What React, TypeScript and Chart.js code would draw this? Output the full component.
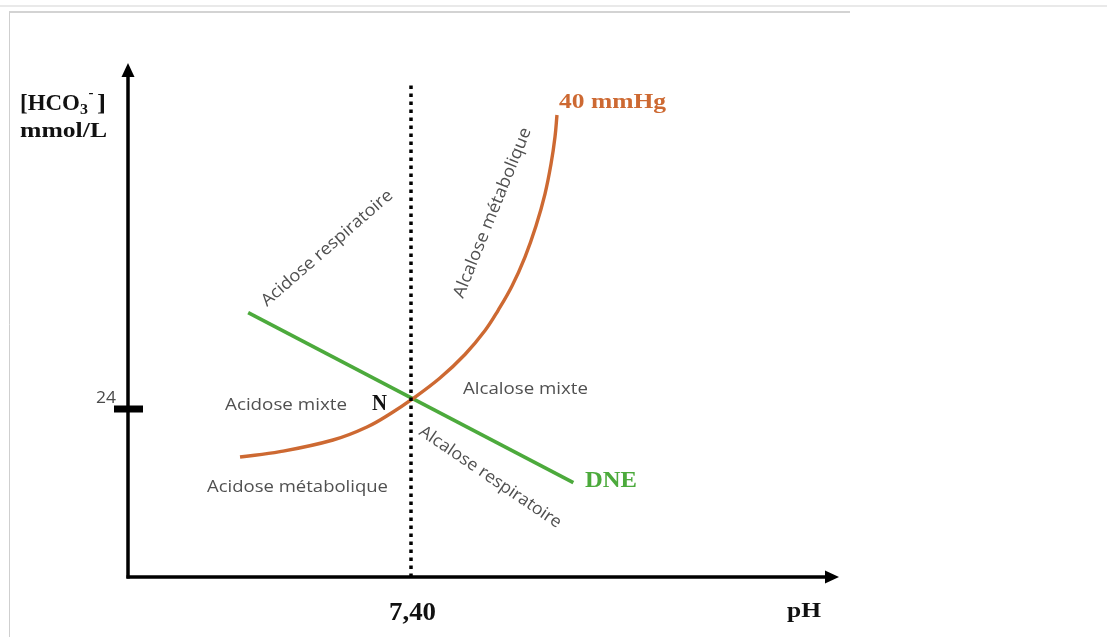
import React, { useEffect, useRef } from "react";
import { Chart, registerables } from "chart.js";

Chart.register(...registerables);

// ---- data ----
const isobarPH = [7.2194, 7.2616, 7.3176, 7.3535, 7.381, 7.4, 7.4306, 7.457, 7.4782, 7.4919, 7.5067, 7.5204, 7.532, 7.5415, 7.5479, 7.5521, 7.5542];
const isobarHCO3 = [17.14, 17.9, 19.57, 21.43, 23.57, 25.29, 28.43, 31.79, 35.21, 38.07, 41.57, 45.71, 50.14, 54.71, 59.0, 62.86, 66.0];
const dnePH = [7.228, 7.5715];
const dneHCO3 = [37.76, 13.47];
const normalPH = 7.4;
const normalLineHCO3 = [0, 70.3];
const tickHCO3 = 24;
const xTickLabel = "7,40";
const yTickLabel = "24";
const isobarName = "40 mmHg";
const dneName = "DNE";

const PH_MIN = 7.1;
const PH_MAX = 7.85;
const HCO3_MIN = 0;
const HCO3_MAX = 74;

const ORANGE = "#cd6932";
const GREEN = "#4caa3c";
const GRAY = "#505050";
const SERIF = "'Liberation Serif', 'DejaVu Serif', serif";
const SANS = "'Open Sans', 'Noto Sans', sans-serif";

function drawLabel(ctx, text, x, y, font, color, width, angle = 0) {
  ctx.save();
  ctx.translate(x, y);
  ctx.rotate((angle * Math.PI) / 180);
  ctx.font = font;
  const w = ctx.measureText(text).width;
  if (width) ctx.scale(width / w, 1);
  ctx.fillStyle = color;
  ctx.textBaseline = "alphabetic";
  ctx.textAlign = "left";
  ctx.fillText(text, 0, 0);
  ctx.restore();
}

const decorPlugin = {
  id: "decor",
  beforeDraw(chart) {
    const ctx = chart.ctx;
    ctx.save();
    ctx.fillStyle = "#ffffff";
    ctx.fillRect(0, 0, chart.width, chart.height);
    ctx.strokeStyle = "#e2e2e2";
    ctx.lineWidth = 1.5;
    ctx.beginPath();
    ctx.moveTo(0, 6);
    ctx.lineTo(chart.width, 6);
    ctx.stroke();
    ctx.strokeStyle = "#a8a8a8";
    ctx.lineWidth = 1.2;
    ctx.beginPath();
    ctx.moveTo(9, 12);
    ctx.lineTo(850, 12);
    ctx.stroke();
    ctx.strokeStyle = "#cfcfcf";
    ctx.lineWidth = 1;
    ctx.beginPath();
    ctx.moveTo(9.5, 12);
    ctx.lineTo(9.5, chart.height);
    ctx.stroke();
    ctx.restore();
  },
  afterDatasetsDraw(chart) {
    const ctx = chart.ctx;
    const xs = chart.scales.x;
    const ys = chart.scales.y;
    const x0 = xs.getPixelForValue(PH_MIN) + 1;
    const y0 = ys.getPixelForValue(HCO3_MIN);
    const yTop = ys.getPixelForValue(HCO3_MAX) + 4;
    const xRight = xs.getPixelForValue(PH_MAX) + 2;
    ctx.save();
    ctx.strokeStyle = "#000";
    ctx.fillStyle = "#000";
    ctx.lineWidth = 3.5;
    // y axis
    ctx.beginPath();
    ctx.moveTo(x0, y0 + 1.5);
    ctx.lineTo(x0, yTop + 10);
    ctx.stroke();
    ctx.beginPath();
    ctx.moveTo(x0, yTop);
    ctx.lineTo(x0 - 6.5, yTop + 14);
    ctx.lineTo(x0 + 6.5, yTop + 14);
    ctx.closePath();
    ctx.fill();
    // x axis
    ctx.beginPath();
    ctx.moveTo(x0 - 1.5, y0);
    ctx.lineTo(xRight - 10, y0);
    ctx.stroke();
    ctx.beginPath();
    ctx.moveTo(xRight, y0);
    ctx.lineTo(xRight - 14, y0 - 6.5);
    ctx.lineTo(xRight - 14, y0 + 6.5);
    ctx.closePath();
    ctx.fill();
    // tick bar at 24
    const yT = ys.getPixelForValue(tickHCO3);
    ctx.fillRect(x0 - 14, yT - 3.5, 29, 7);
    ctx.restore();

    // tick labels
    drawLabel(ctx, yTickLabel, 96, 403, `17px ${SANS}`, "#4a4a4a", 20);
    const xN = xs.getPixelForValue(normalPH);
    drawLabel(ctx, xTickLabel, xN - 22, 620, `bold 26px ${SERIF}`, "#111", 47);
    drawLabel(ctx, "pH", 787, 617, `bold 22px ${SERIF}`, "#111", 34);

    // y axis title [HCO3-] mmol/L
    drawLabel(ctx, "[HCO", 20, 110, `bold 23px ${SERIF}`, "#111", 60);
    drawLabel(ctx, "3", 80, 114, `bold 15px ${SERIF}`, "#111", 8);
    drawLabel(ctx, "-", 88.5, 97, `bold 15px ${SERIF}`, "#111", 5);
    drawLabel(ctx, "]", 97, 110, `bold 23px ${SERIF}`, "#111", 9);
    drawLabel(ctx, "mmol/L", 20, 137, `bold 22px ${SERIF}`, "#111", 87);

    // series labels
    drawLabel(ctx, isobarName, 559, 108, `bold 21px ${SERIF}`, ORANGE, 107);
    drawLabel(ctx, dneName, 585, 487, `bold 24px ${SERIF}`, GREEN, 52);
    drawLabel(ctx, "N", 372, 410, `bold 24px ${SERIF}`, "#111", 15);

    // region labels
    const f = `17px ${SANS}`;
    drawLabel(ctx, "Acidose mixte", 225, 410, f, GRAY, 122);
    drawLabel(ctx, "Alcalose mixte", 463, 394, f, GRAY, 125);
    drawLabel(ctx, "Acidose métabolique", 207, 492, f, GRAY, 181);
    drawLabel(ctx, "Acidose respiratoire", 267, 307, f, GRAY, 168, -41);
    drawLabel(ctx, "Alcalose métabolique", 463, 299, f, GRAY, 182, -68);
    drawLabel(ctx, "Alcalose respiratoire", 418, 434, f, GRAY, 168, 34.2);
  },
};

export default function App() {
  const ref = useRef(null);
  useEffect(() => {
    const canvas = ref.current;
    if (!canvas) return;
    const chart = new Chart(canvas, {
      type: "line",
      data: {
        datasets: [
          {
            label: "pH normal",
            data: normalLineHCO3.map((v) => ({ x: normalPH, y: v })),
            borderColor: "#000",
            borderWidth: 3.5,
            borderDash: [3.5, 4.5],
            borderCapStyle: "butt",
            pointRadius: 0,
            tension: 0,
          },
          {
            label: isobarName,
            data: isobarPH.map((p, i) => ({ x: p, y: isobarHCO3[i] })),
            borderColor: ORANGE,
            borderWidth: 3.4,
            pointRadius: 0,
            tension: 0.4,
          },
          {
            label: dneName,
            data: dnePH.map((p, i) => ({ x: p, y: dneHCO3[i] })),
            borderColor: GREEN,
            borderWidth: 3.6,
            pointRadius: 0,
            tension: 0,
          },
        ],
      },
      options: {
        animation: false,
        responsive: false,
        devicePixelRatio: 1,
        layout: { padding: { left: 127, right: 270, top: 59, bottom: 60 } },
        plugins: { legend: { display: false }, tooltip: { enabled: false }, title: { display: false } },
        scales: {
          x: { type: "linear", min: PH_MIN, max: PH_MAX, display: false },
          y: { type: "linear", min: HCO3_MIN, max: HCO3_MAX, display: false },
        },
        events: [],
      },
      plugins: [decorPlugin],
    });
    return () => chart.destroy();
  }, []);
  return (
    <div style={{ position: "absolute", left: 0, top: 0, width: 1107, height: 637, background: "#fff" }}>
      <canvas ref={ref} width={1107} height={637} style={{ display: "block", width: 1107, height: 637 }} />
    </div>
  );
}
